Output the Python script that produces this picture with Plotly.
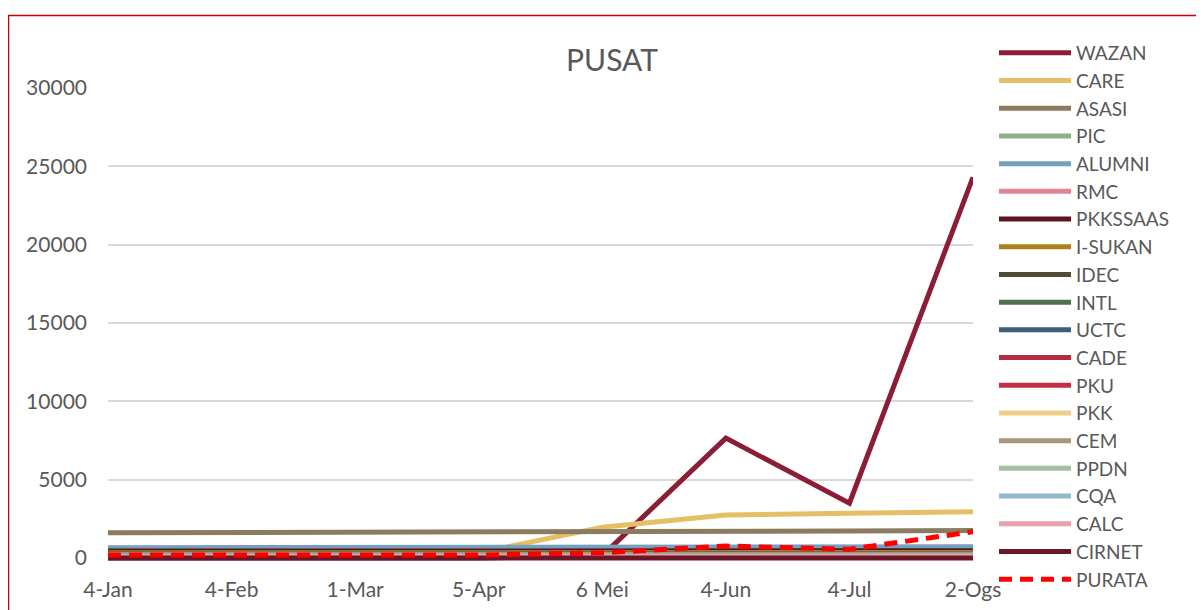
import plotly.graph_objects as go

months = ["4-Jan", "4-Feb", "1-Mar", "5-Apr", "6 Mei", "4-Jun", "4-Jul", "2-Ogs"]
y_ticks = [0, 5000, 10000, 15000, 20000, 25000, 30000]

WAZAN    = [0, 0, 0, 0, 150, 7650, 3500, 24300]
CARE     = [330, 330, 330, 330, 1960, 2750, 2850, 2950]
ASASI    = [1610, 1620, 1640, 1630, 1640, 1680, 1720, 1760]
PIC      = [120, 120, 120, 120, 120, 130, 130, 140]
ALUMNI   = [660, 660, 660, 660, 660, 680, 690, 720]
RMC      = [100, 100, 100, 100, 100, 110, 110, 120]
PKKSSAAS = [440, 440, 440, 440, 440, 450, 450, 460]
ISUKAN   = [330, 330, 330, 330, 330, 340, 340, 350]
IDEC     = [260, 260, 260, 260, 260, 270, 270, 280]
INTL     = [150, 150, 150, 150, 150, 160, 160, 170]
UCTC     = [120, 120, 120, 120, 120, 130, 130, 140]
CADE     = [90, 90, 90, 90, 90, 100, 100, 110]
PKU      = [90, 90, 90, 90, 90, 100, 100, 110]
PKK      = [80, 80, 80, 80, 80, 90, 90, 100]
CEM      = [230, 230, 230, 230, 230, 240, 240, 250]
PPDN     = [100, 100, 100, 100, 100, 110, 110, 120]
CQA      = [110, 110, 110, 110, 110, 120, 120, 130]
CALC     = [70, 70, 70, 70, 70, 80, 80, 90]
CIRNET   = [0, 0, 0, 0, 0, 0, 0, 0]
PURATA   = [190, 190, 190, 190, 330, 765, 555, 1680]

series = [
    ("WAZAN", WAZAN, "#8C1D36"),
    ("CARE", CARE, "#E5BF65"),
    ("ASASI", ASASI, "#8B7B61"),
    ("PIC", PIC, "#8FAF8A"),
    ("ALUMNI", ALUMNI, "#72A0BD"),
    ("RMC", RMC, "#E08496"),
    ("PKKSSAAS", PKKSSAAS, "#5A1520"),
    ("I-SUKAN", ISUKAN, "#AD801E"),
    ("IDEC", IDEC, "#4F4A3A"),
    ("INTL", INTL, "#4E6E50"),
    ("UCTC", UCTC, "#3E6079"),
    ("CADE", CADE, "#B52A44"),
    ("PKU", PKU, "#C62E48"),
    ("PKK", PKK, "#EDCD88"),
    ("CEM", CEM, "#A59679"),
    ("PPDN", PPDN, "#A5BFA3"),
    ("CQA", CQA, "#93B7CE"),
    ("CALC", CALC, "#E9A1AD"),
    ("CIRNET", CIRNET, "#6B1728"),
]

FONT = "Lato"
GREY = "#595959"

fig = go.Figure()
xs = list(range(len(months)))
for name, vals, col in series:
    fig.add_trace(go.Scatter(x=xs, y=vals, name=name, mode="lines",
                             line=dict(color=col, width=5)))
fig.add_trace(go.Scatter(x=xs, y=PURATA, name="PURATA", mode="lines",
                         line=dict(color="#FF0000", width=5, dash="13px,8px")))

# figure pixel coordinates (page is offset by 8px body margin)
W, H = 1196, 602
L, R = 100, 231
pw = W - L - R
Y_TOP, Y_BOT = 80, 554.7  # pixel rows of axis top (30000) and bottom (-300)

def px(x):
    return (x - L) / pw

def py(y):
    return (H - y) / H

fig.update_layout(
    width=W, height=H,
    margin=dict(l=L, r=R, t=0, b=0, pad=0, autoexpand=False),
    paper_bgcolor="white", plot_bgcolor="white",
    font=dict(family=FONT, color=GREY, size=21),
    title=dict(text="PUSAT", x=604 / W, xref="container", y=1 - 52 / H, yref="container",
               xanchor="center", yanchor="middle", font=dict(size=30, color=GREY, family=FONT)),
    showlegend=True,
    legend=dict(x=px(986), y=py(26), xanchor="left", yanchor="top", xref="paper", yref="paper",
                font=dict(size=19, color=GREY, family=FONT), itemwidth=72,
                bgcolor="rgba(0,0,0,0)", tracegroupgap=0, traceorder="normal"),
    xaxis=dict(range=[0, 7], tickmode="array", tickvals=xs, ticktext=months,
               showgrid=False, zeroline=False, showline=False, ticks="",
               tickfont=dict(size=21, color=GREY, family=FONT), ticklabelstandoff=12),
    yaxis=dict(range=[-300, 30000], domain=[py(Y_BOT), py(Y_TOP)],
               tickmode="array", tickvals=y_ticks, ticktext=[str(v) for v in y_ticks],
               showgrid=True, gridcolor="#D9D9D9", gridwidth=1.5, zeroline=False, showline=False,
               ticks="", tickfont=dict(size=21, color=GREY, family=FONT), ticklabelstandoff=20),
    shapes=[dict(type="rect", xref="paper", yref="paper", x0=px(0.5), x1=px(1215), y0=py(625), y1=py(7.5),
                 line=dict(color="#CC0000", width=1.5), fillcolor="rgba(0,0,0,0)", layer="below")],
)

fig.write_html("out.html")
